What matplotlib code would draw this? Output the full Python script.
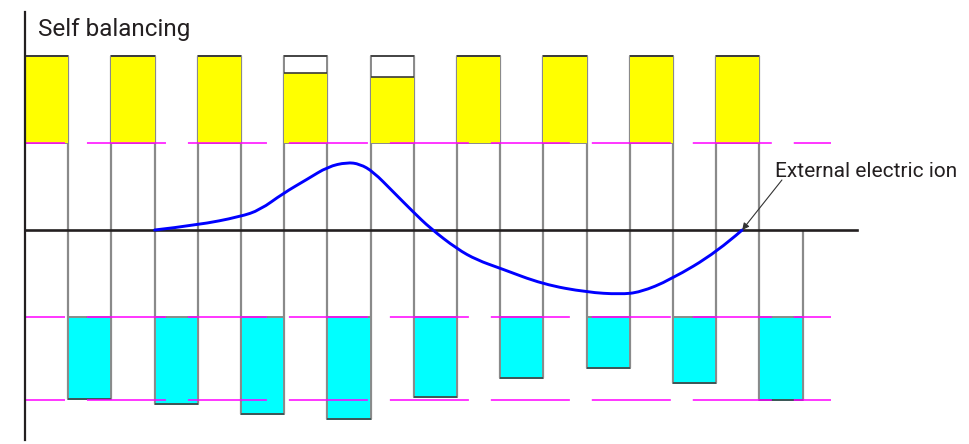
import matplotlib
matplotlib.use('Agg')

import matplotlib.pyplot as plt
from matplotlib import font_manager
from matplotlib.path import Path
from matplotlib.patches import PathPatch

# Data: levels in units of the top/bottom reference lines
yellow_top = [2.0, 2.0, 2.0, 1.80, 1.76, 2.0, 2.0, 2.0, 2.0]
box_top = 2.0
yellow_base = 1.0
cyan_top = -1.0
cyan_bottom = [-1.94, -2.00, -2.11, -2.17, -1.92, -1.70, -1.59, -1.76, -1.95]
ref_levels = [1.0, -1.0, -1.95]

curve_x = [3.0, 4.0, 4.98, 5.44, 5.97, 6.53, 7.01, 7.45, 7.75, 8.06, 8.52, 8.98, 9.38,
           10.0, 10.46, 11.0, 11.99, 13.01, 13.77, 14.24, 14.93, 16.02, 16.6]
curve_y = [0.0, 0.057, 0.153, 0.23, 0.42, 0.583, 0.728, 0.778, 0.759, 0.67, 0.44, 0.21, 0.02,
           -0.218, -0.345, -0.44, -0.624, -0.716, -0.739, -0.716, -0.575, -0.253, 0.0]

title = "Self balancing"
note = "External electric ion"

plt.rcParams['lines.scale_dashes'] = False
names = {f.name for f in font_manager.fontManager.ttflist}
font = 'Roboto' if 'Roboto' in names else 'DejaVu Sans'


def smooth_path(xs, ys):
    # quadratic bezier through midpoints, data points act as control points
    pts = list(zip(xs, ys))
    verts = [pts[0]]
    codes = [Path.MOVETO]
    for i in range(1, len(pts) - 1):
        mid = ((pts[i][0] + pts[i + 1][0]) / 2, (pts[i][1] + pts[i + 1][1]) / 2)
        if i == len(pts) - 2:
            mid = pts[-1]
        verts += [pts[i], mid]
        codes += [Path.CURVE3, Path.CURVE3]
    return Path(verts, codes)


def main():
    fig = plt.figure(figsize=(9.69, 4.44), dpi=100)
    ax = fig.add_axes([0, 0, 1, 1])
    ax.set_xlim(-0.579, 21.85)
    ax.set_ylim(-2.46, 2.644)
    ax.axis('off')

    n = len(yellow_top)
    edge = '#8a8a8a'

    # vertical separators
    for k in range(1, 2 * n + 1):
        top = box_top if k < 2 * n else 0.0
        bottom = cyan_bottom[(k - 1) // 2]
        ax.vlines(k, bottom, top, color=edge, lw=1.6, zorder=1)

    # top bars: white box, then yellow fill
    for i in range(n):
        ax.bar(2 * i, box_top - yellow_base, width=1, bottom=yellow_base, align='edge',
               color='white', edgecolor=edge, lw=1.4, zorder=2)
        ax.bar(2 * i, yellow_top[i] - yellow_base, width=1, bottom=yellow_base, align='edge',
               color='#ffff00', edgecolor='none', zorder=3)
        ax.hlines(yellow_top[i], 2 * i, 2 * i + 1, color='#3a3a3a', lw=1.2, zorder=4)
        ax.hlines(box_top, 2 * i, 2 * i + 1, color='#3a3a3a', lw=1.2, zorder=4)

    # bottom bars
    for i in range(n):
        ax.bar(2 * i + 1, cyan_bottom[i] - cyan_top, width=1, bottom=cyan_top, align='edge',
               color='#00ffff', edgecolor=edge, lw=1.4, zorder=2)
        ax.hlines(cyan_bottom[i], 2 * i + 1, 2 * i + 2, color='#2f4f4f', lw=1.2, zorder=4)

    # dashed reference lines
    for lv in ref_levels:
        ax.plot([0, 18.66], [lv, lv], color='#ff00ff', lw=1.1,
                linestyle=(28.1, (56.9, 15.8)), zorder=5)

    # axes
    ax.plot([0, 19.26], [0, 0], color='#231f20', lw=1.9, zorder=6)
    ax.plot([0, 0], [-2.414, 2.506], color='#231f20', lw=1.6, zorder=6)

    # curve
    ax.add_patch(PathPatch(smooth_path(curve_x, curve_y), facecolor='none',
                           edgecolor='#0000ff', lw=2.1, zorder=7, capstyle='round'))

    ax.text(0.30, 2.23, title, fontsize=17.5, family=font, color='#231f20', va='baseline')
    ax.text(17.36, 0.61, note, fontsize=15, family=font, color='#231f20', va='baseline')
    ax.annotate('', xy=(curve_x[-1], curve_y[-1]), xytext=(17.52, 0.575),
                arrowprops=dict(arrowstyle='-|>', color='#333333', lw=0.8,
                                mutation_scale=10, shrinkA=0, shrinkB=0), zorder=8)

    fig.savefig('out.png', dpi=100)


if __name__ == "__main__":
    main()
